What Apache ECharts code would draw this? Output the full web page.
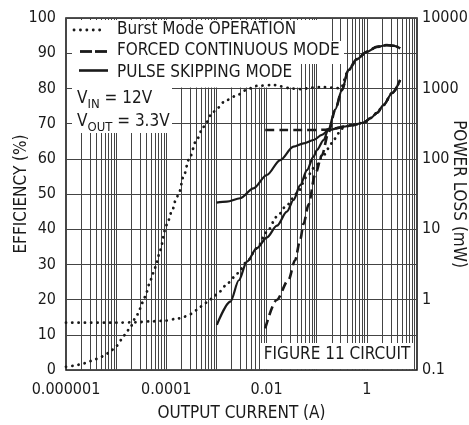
<!DOCTYPE html>
<html><head><meta charset="utf-8">
<script src="https://cdn.jsdelivr.net/npm/echarts@6/dist/echarts.min.js"></script>
<style>html,body{margin:0;padding:0;background:#fff}#c{width:469px;height:425px}</style>
</head><body><div id="c"></div>
<script>
const FONT = "'Liberation Sans Narrow','DejaVu Sans Condensed','Arial Narrow',sans-serif";
const INK = '#1a1a1a';

// tick labels
const xTickLabels = ['0.000001', '', '0.0001', '', '0.01', '', '1', ''];   // exponents -6..1
const rightTickLabels = ['0.1', '1', '10', '100', '1000', '10000'];       // exponents -1..4

// Efficiency (%) – left axis
const burstEffX = [1e-6,1.4e-6,2e-6,2.6e-6,3.5e-6,4.8e-6,6.3e-6,8.2e-6,1.03e-5,1.25e-5,1.53e-5,1.81e-5,2.5e-5,2.9e-5,3.2e-5,3.65e-5,4.1e-5,4.5e-5,5.1e-5,5.6e-5,6.3e-5,6.8e-5,7.3e-5,1.02e-4,1.29e-4,1.55e-4,1.8e-4,2.2e-4,2.85e-4,4e-4,5.5e-4,8.7e-4,1.6e-3,2.8e-3,3.7e-3,6.3e-3,0.0137,0.0187,0.03,0.05,0.08,0.13,0.2,0.3,0.43,0.63,1.0,1.58,2.5,3.5,4.6];
const burstEffY = [0.9,1.2,1.6,2.1,2.8,3.6,4.5,5.7,6.9,8.5,10.1,11.6,15,16.9,18.7,20.5,22.3,24.2,26,27.9,29.8,31.7,33.6,41.2,45,48.3,50.4,54.9,59.9,65.3,69.1,73.4,76.7,78.3,79.4,80.7,81,80.6,80,79.8,80.2,80.4,80.2,80,85.2,88.3,90.4,91.8,92.3,92.1,91.4];

const forcedEffX = [0.0094,0.0159,0.0274,0.037,0.0468,0.0546,0.0687,0.093,0.127,0.172,0.234,0.318,0.43,0.63,1.0,1.58,2.5,3.5,4.6];
const forcedEffY = [11.8,19.9,25.6,31.2,37,41.5,47,55.5,61,67.5,73.9,79.5,85.2,88.3,90.4,91.8,92.3,92.1,91.4];

const psEffX = [1.02e-3,1.9e-3,2.8e-3,4.05e-3,6.4e-3,0.0101,0.0161,0.0254,0.0344,0.047,0.064,0.0865,0.101,0.137,0.172,0.234,0.318,0.43,0.63,1.0,1.58,2.5,3.5,4.6];
const psEffY = [12.8,19.4,25.5,30.8,34.6,37.6,41,45,48.3,52.5,56.8,60.6,62.5,65.3,68.5,74,79.5,85.2,88.3,90.4,91.8,92.3,92.1,91.4];

// Power loss (mW) – right axis
const burstLossX = [1e-6,1e-5,2.5e-5,4.75e-5,9e-5,1.67e-4,2.27e-4,3.08e-4,4.06e-4,5.26e-4,6.7e-4,8.7e-4,1.1e-3,1.74e-3,2.63e-3,4.05e-3,6.4e-3,0.0101,0.0161,0.0254,0.04,0.064,0.093,0.137,0.2,0.272,0.35,0.5,0.86,1.2,1.6,2.15,3.2,4.6];
const burstLossY = [0.47,0.47,0.476,0.49,0.5,0.535,0.571,0.624,0.711,0.82,0.93,1.08,1.27,1.74,2.36,3.45,5.36,9.1,15.1,22,32,55.7,77.3,113,166,230,283,300,325,380,450,580,860,1316];

const forcedLossX = [0.0094,0.02,0.05,0.1,0.15,0.2,0.27,0.343,0.5,0.86,1.2,1.6,2.15,3.2,4.6];
const forcedLossY = [256,256,256,257,259,264,275,286,300,325,380,450,580,860,1316];

const psLossX = [1e-3,1.61e-3,2.97e-3,5.48e-3,0.0101,0.0187,0.0344,0.0546,0.0863,0.127,0.172,0.343,0.5,0.86,1.2,1.6,2.15,3.2,4.6];
const psLossY = [23.8,24.6,27.5,38.1,58.9,96,149,166,185,218,256,286,300,325,380,450,580,860,1316];

const zip = (xs, ys) => xs.map((x, i) => [x, ys[i]]);

// vertical grid positions (1..9 x each decade)
const gridX = [];
for (let e = -6; e <= 0; e++) for (let m = 1; m <= 9; m++) { const v = m * Math.pow(10, e); if (!(e === -6 && m === 1)) gridX.push(v); }

const dotted = { color: INK, width: 2.8, type: [0.1, 6.2], cap: 'round' };
const dashed = { color: INK, width: 2.6, type: [9, 5] };
const solid = { color: INK, width: 2.2, type: 'solid' };

function ser(name, xs, ys, yIdx, ls) {
  return { name, type: 'line', xAxisIndex: 0, yAxisIndex: yIdx, data: zip(xs, ys), showSymbol: false, symbol: 'none',
    smooth: 0.3, smoothMonotone: 'x', lineStyle: ls, z: 2, silent: true };
}

const FS = 17;
const chart = echarts.init(document.getElementById('c'), null, { renderer: 'canvas' });
const txt = { fontFamily: FONT, fontSize: FS, color: INK };
const tick = { fontFamily: FONT, fontSize: 16, color: INK };
chart.setOption({
  animation: false,
  backgroundColor: '#fff',
  grid: { left: 66, top: 18, right: 52, bottom: 55, containLabel: false, outerBoundsMode: 'none',
    show: true, borderColor: INK, borderWidth: 1.6, backgroundColor: 'transparent' },
  xAxis: {
    type: 'log', logBase: 10, min: 1e-6, max: 10,
    axisLine: { show: false }, axisTick: { show: false }, splitLine: { show: false },
    axisLabel: Object.assign({ margin: 12, formatter: v => xTickLabels[Math.round(Math.log10(v)) + 6] || '' }, tick),
    name: 'OUTPUT CURRENT (A)', nameLocation: 'middle', nameGap: 35, nameMoveOverlap: false, nameTextStyle: txt
  },
  yAxis: [
    { type: 'value', min: 0, max: 100, interval: 10,
      axisLine: { show: false }, axisTick: { show: false },
      splitLine: { show: true, lineStyle: { color: '#444', width: 1 } },
      axisLabel: Object.assign({ margin: 10 }, tick),
      name: 'EFFICIENCY (%)', nameLocation: 'middle', nameGap: 36, nameMoveOverlap: false, nameTextStyle: txt },
    { type: 'log', logBase: 10, min: 0.1, max: 10000, position: 'right', alignTicks: false,
      axisLine: { show: false }, axisTick: { show: false }, splitLine: { show: false },
      axisLabel: Object.assign({ margin: 5, formatter: v => rightTickLabels[Math.round(Math.log10(v)) + 1] || '' }, tick),
      name: 'POWER LOSS (mW)', nameLocation: 'middle', nameGap: 33, nameRotate: -90, nameMoveOverlap: false, nameTextStyle: txt }
  ],
  series: [
    { type: 'line', data: [[1e-6, 0]], symbol: 'none', lineStyle: { opacity: 0 }, silent: true, z: 0,
      markLine: { silent: true, z: 0.5, precision: 12, symbol: ['none', 'none'], label: { show: false }, animation: false,
        lineStyle: { color: '#444', width: 1, type: 'solid' }, data: gridX.map(v => ({ xAxis: v })) } },
    ser('Burst Mode efficiency', burstEffX, burstEffY, 0, dotted),
    ser('Forced continuous efficiency', forcedEffX, forcedEffY, 0, dashed),
    ser('Pulse skipping efficiency', psEffX, psEffY, 0, solid),
    ser('Burst Mode power loss', burstLossX, burstLossY, 1, dotted),
    ser('Forced continuous power loss', forcedLossX, forcedLossY, 1, dashed),
    ser('Pulse skipping power loss', psLossX, psLossY, 1, solid)
  ],
  graphic: [
    { type: 'rect', z: 1, shape: { x: 72, y: 20, width: 254, height: 22 }, style: { fill: '#fff' } },
    { type: 'rect', z: 1, shape: { x: 72, y: 41, width: 272, height: 23 }, style: { fill: '#fff' } },
    { type: 'rect', z: 1, shape: { x: 72, y: 63, width: 228, height: 24.5 }, style: { fill: '#fff' } },
    { type: 'rect', z: 1, shape: { x: 72, y: 86, width: 100, height: 47 }, style: { fill: '#fff' } },
    { type: 'rect', z: 1, shape: { x: 261, y: 343, width: 152, height: 26 }, style: { fill: '#fff' } },
    { type: 'line', z: 3, shape: { x1: 74, y1: 30, x2: 106, y2: 30 }, style: { stroke: INK, lineWidth: 2.8, lineDash: [0.1, 6.3], lineCap: 'round' } },
    { type: 'line', z: 3, shape: { x1: 80, y1: 51.5, x2: 92, y2: 51.5 }, style: { stroke: INK, lineWidth: 2.8 } },
    { type: 'line', z: 3, shape: { x1: 95, y1: 51.5, x2: 107, y2: 51.5 }, style: { stroke: INK, lineWidth: 2.8 } },
    { type: 'line', z: 3, shape: { x1: 79, y1: 70.5, x2: 108, y2: 70.5 }, style: { stroke: INK, lineWidth: 2.6 } },
    { type: 'text', z: 3, x: 117, y: 30, style: { text: 'Burst Mode OPERATION', fontFamily: FONT, fontSize: FS, fill: INK, verticalAlign: 'middle' } },
    { type: 'text', z: 3, x: 117, y: 51, style: { text: 'FORCED CONTINUOUS MODE', fontFamily: FONT, fontSize: FS, fill: INK, verticalAlign: 'middle' } },
    { type: 'text', z: 3, x: 117, y: 72.5, style: { text: 'PULSE SKIPPING MODE', fontFamily: FONT, fontSize: FS, fill: INK, verticalAlign: 'middle' } },
    { type: 'text', z: 3, x: 77, y: 90, style: { text: '{a|V}{s|IN}{a| = 12V}', fill: INK,
      rich: { a: { fontFamily: FONT, fontSize: FS, verticalAlign: 'top', lineHeight: 20, fill: INK },
              s: { fontFamily: FONT, fontSize: 13, verticalAlign: 'top', lineHeight: 15, padding: [8, 0, 0, 0], fill: INK } } } },
    { type: 'text', z: 3, x: 77, y: 113, style: { text: '{a|V}{s|OUT}{a| = 3.3V}', fill: INK,
      rich: { a: { fontFamily: FONT, fontSize: FS, verticalAlign: 'top', lineHeight: 20, fill: INK },
              s: { fontFamily: FONT, fontSize: 13, verticalAlign: 'top', lineHeight: 15, padding: [8, 0, 0, 0], fill: INK } } } },
    { type: 'text', z: 3, x: 337, y: 355, style: { text: 'FIGURE 11 CIRCUIT', fontFamily: FONT, fontSize: FS, fill: INK, align: 'center', verticalAlign: 'middle' } }
  ]
});
</script></body></html>
